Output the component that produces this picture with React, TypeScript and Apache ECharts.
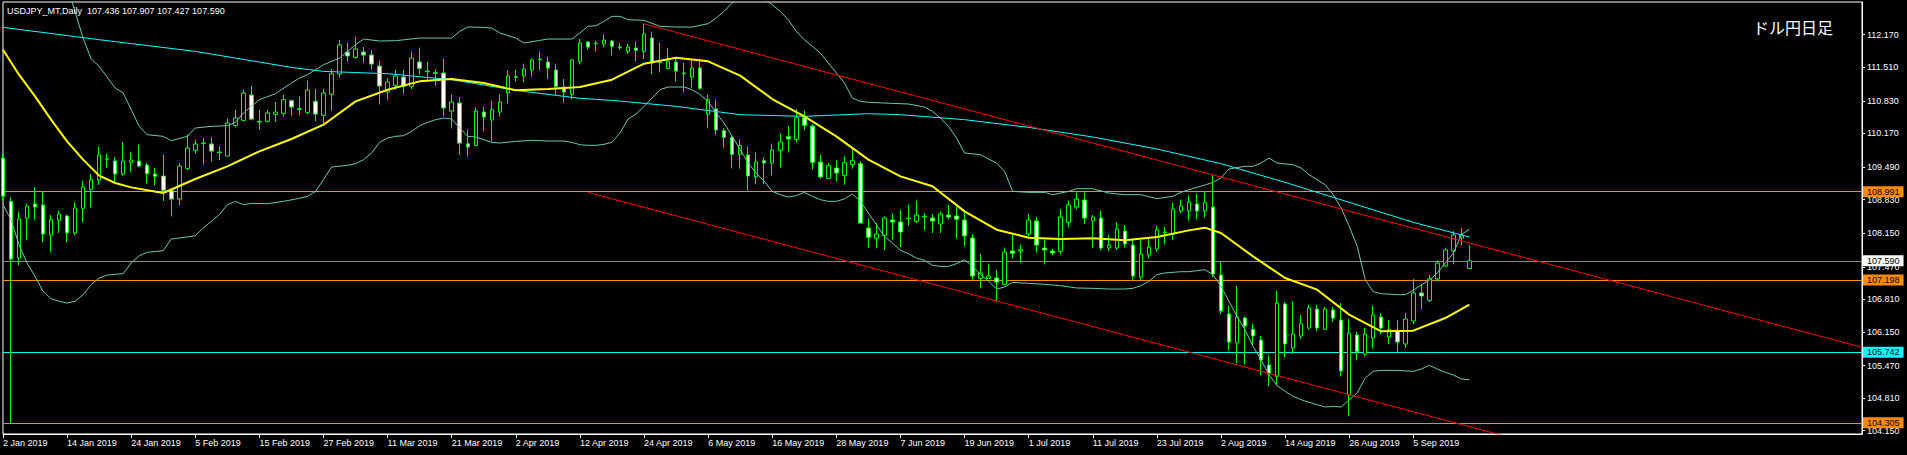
import React, { useEffect, useRef } from "react";
import * as echarts from "echarts";

// ---------- DATA ----------
const MONTHS = ["Jan", "Feb", "Mar", "Apr", "May", "Jun", "Jul", "Aug", "Sep", "Oct", "Nov", "Dec"];
const firstDay = "2019-01-02";
const totalSlots = 233; // trading days incl. empty space to the right (chart shift)

function buildCategories(start: string, n: number): string[] {
  const out: string[] = [];
  const d = new Date(start + "T00:00:00Z");
  while (out.length < n) {
    const wd = d.getUTCDay();
    if (wd !== 0 && wd !== 6) {
      out.push(`${d.getUTCDate()} ${MONTHS[d.getUTCMonth()]} ${d.getUTCFullYear()}`);
    }
    d.setUTCDate(d.getUTCDate() + 1);
  }
  return out;
}
const categories = buildCategories(firstDay, totalSlots);

// [open, high, low, close]
const ohlc: number[][] = [
  [109.67, 109.75, 108.8, 108.9], [108.795, 108.88, 104.305, 107.627], [107.647, 108.586, 107.499, 108.437], [108.451, 108.748, 108.005, 108.7],
  [108.741, 109.085, 108.424, 108.68], [108.72, 109.004, 107.965, 108.133], [108.113, 108.518, 107.762, 108.424], [108.41, 108.606, 108.154, 108.538],
  [108.498, 108.525, 107.965, 108.154], [108.154, 108.775, 108.106, 108.66], [108.653, 109.213, 108.37, 109.085], [109.038, 109.355, 108.673, 109.234],
  [109.227, 109.902, 109.126, 109.733], [109.645, 109.76, 109.47, 109.659], [109.612, 109.693, 109.166, 109.348], [109.348, 109.996, 109.315, 109.612],
  [109.585, 109.794, 109.396, 109.632], [109.612, 109.942, 109.49, 109.51], [109.531, 109.57, 109.159, 109.355], [109.348, 109.477, 109.119, 109.301],
  [109.308, 109.74, 108.802, 109.018], [109.018, 109.058, 108.491, 108.842], [108.842, 109.57, 108.714, 109.51], [109.463, 110.152, 109.423, 109.875],
  [109.828, 110.044, 109.76, 109.956], [109.963, 110.077, 109.544, 109.976], [109.956, 110.091, 109.605, 109.814], [109.794, 109.909, 109.632, 109.78],
  [109.713, 110.469, 109.706, 110.381], [110.334, 110.651, 110.293, 110.482], [110.435, 111.056, 110.422, 110.989], [110.948, 111.137, 110.435, 110.462],
  [110.415, 110.651, 110.246, 110.401], [110.415, 110.651, 110.395, 110.584], [110.557, 110.806, 110.401, 110.604], [110.577, 110.955, 110.509, 110.854],
  [110.833, 110.854, 110.53, 110.705], [110.671, 110.914, 110.536, 110.658], [110.597, 111.238, 110.557, 111.049], [110.82, 111.07, 110.415, 110.563],
  [110.536, 111.07, 110.327, 110.989], [110.962, 111.475, 110.631, 111.38], [111.373, 112.062, 111.299, 111.961], [111.819, 112.008, 111.623, 111.738],
  [111.711, 112.129, 111.684, 111.88], [111.819, 111.92, 111.603, 111.758], [111.758, 111.859, 111.468, 111.576], [111.535, 111.643, 110.759, 111.13],
  [111.009, 111.286, 110.854, 111.211], [111.144, 111.461, 111.056, 111.333], [111.313, 111.461, 110.975, 111.124], [111.124, 111.826, 111.07, 111.697],
  [111.616, 111.907, 111.36, 111.488], [111.434, 111.623, 111.259, 111.42], [111.4, 111.475, 111.137, 111.387], [111.394, 111.684, 110.516, 110.685],
  [110.624, 110.955, 110.273, 110.806], [110.786, 110.908, 109.733, 109.976], [109.963, 110.246, 109.706, 109.895], [109.929, 110.698, 109.909, 110.624],
  [110.604, 110.705, 110.212, 110.503], [110.442, 110.834, 110.01, 110.651], [110.604, 110.955, 110.516, 110.806], [110.989, 111.448, 110.779, 111.333],
  [111.32, 111.461, 111.225, 111.306], [111.333, 111.583, 111.205, 111.475], [111.454, 111.691, 111.326, 111.657], [111.664, 111.826, 111.454, 111.677],
  [111.616, 111.724, 111.272, 111.495], [111.454, 111.583, 110.955, 111.124], [111.11, 111.272, 110.8, 111.009], [110.962, 111.677, 110.86, 111.657],
  [111.63, 112.089, 111.569, 112.001], [112.021, 112.042, 111.873, 111.92], [111.988, 112.048, 111.832, 112.001], [111.981, 112.17, 111.913, 112.062],
  [112.042, 112.062, 111.751, 111.934], [111.92, 112.001, 111.866, 111.907], [111.832, 111.981, 111.785, 111.92], [111.9, 112.028, 111.63, 111.853],
  [111.832, 112.393, 111.677, 112.184], [112.102, 112.231, 111.367, 111.596], [111.616, 112.008, 111.407, 111.603], [111.488, 111.9, 111.475, 111.637],
  [111.616, 111.691, 111.225, 111.434], [111.394, 111.596, 111.002, 111.38], [111.313, 111.677, 111.097, 111.495], [111.495, 111.684, 111.056, 111.083],
  [110.557, 110.955, 110.273, 110.854], [110.665, 110.854, 110.145, 110.239], [110.226, 110.28, 109.882, 110.091], [110.084, 110.118, 109.463, 109.747],
  [109.747, 110.044, 109.456, 109.922], [109.733, 109.902, 109.018, 109.308], [109.288, 109.78, 109.139, 109.591], [109.618, 109.693, 109.139, 109.571],
  [109.571, 109.963, 109.321, 109.834], [109.828, 110.179, 109.483, 109.996], [110.104, 110.327, 109.787, 110.057], [110.05, 110.665, 109.99, 110.489],
  [110.489, 110.631, 110.233, 110.334], [110.32, 110.354, 109.443, 109.585], [109.591, 109.74, 109.254, 109.288], [109.261, 109.57, 109.254, 109.517],
  [109.47, 109.632, 109.2, 109.369], [109.321, 109.706, 109.132, 109.578], [109.544, 109.875, 109.456, 109.618], [109.558, 109.605, 108.343, 108.356],
  [108.255, 108.444, 107.857, 108.066], [108.046, 108.356, 107.843, 108.133], [108.106, 108.491, 107.802, 108.457], [108.417, 108.559, 108.019, 108.376],
  [108.376, 108.619, 107.87, 108.174], [108.444, 108.727, 108.302, 108.457], [108.39, 108.808, 108.356, 108.518], [108.491, 108.559, 108.208, 108.477],
  [108.457, 108.538, 108.154, 108.397], [108.336, 108.586, 108.154, 108.538], [108.518, 108.727, 108.431, 108.477], [108.498, 108.68, 108.039, 108.431],
  [108.417, 108.619, 107.883, 108.093], [108.052, 108.133, 107.208, 107.283], [107.235, 107.735, 107.033, 107.343], [107.235, 107.533, 107.235, 107.283],
  [107.242, 107.411, 106.77, 107.161], [107.114, 107.857, 107.1, 107.769], [107.789, 108.154, 107.634, 107.742], [107.789, 107.917, 107.553, 107.816],
  [108.133, 108.545, 108.086, 108.417], [108.397, 108.478, 107.762, 107.91], [107.85, 108.019, 107.519, 107.809], [107.789, 107.836, 107.701, 107.749],
  [107.782, 108.64, 107.722, 108.478], [108.37, 108.808, 108.268, 108.721], [108.68, 108.977, 108.633, 108.842], [108.822, 108.977, 108.336, 108.457],
  [108.397, 108.518, 107.85, 108.478], [108.457, 108.606, 107.802, 107.85], [107.85, 108.113, 107.789, 107.91], [107.85, 108.376, 107.809, 108.235],
  [108.194, 108.316, 107.857, 107.931], [107.91, 108.012, 107.208, 107.283], [107.262, 108.005, 107.208, 107.728], [107.708, 108.052, 107.634, 107.87],
  [107.829, 108.302, 107.776, 108.214], [108.154, 108.275, 107.931, 108.174], [108.127, 108.768, 108.019, 108.64], [108.599, 108.829, 108.552, 108.7],
  [108.599, 108.91, 108.41, 108.781], [108.741, 108.95, 108.431, 108.599], [108.599, 108.977, 108.471, 108.768], [108.68, 109.335, 107.262, 107.323],
  [107.303, 107.573, 106.506, 106.574], [106.513, 106.682, 105.777, 105.946], [105.926, 107.087, 105.514, 106.452], [106.432, 106.466, 105.494, 106.27],
  [106.203, 106.311, 105.885, 106.068], [105.987, 106.068, 105.271, 105.582], [105.48, 105.676, 105.048, 105.298], [105.244, 106.986, 105.069, 106.736],
  [106.716, 106.756, 105.636, 105.906], [105.825, 106.776, 105.703, 106.108], [106.068, 106.493, 106.007, 106.317], [106.23, 106.702, 106.196, 106.635],
  [106.614, 106.702, 106.162, 106.23], [106.203, 106.662, 106.203, 106.614], [106.594, 106.655, 106.351, 106.432], [106.392, 106.736, 105.251, 105.359],
  [104.886, 106.412, 104.441, 106.128], [106.088, 106.149, 105.575, 105.757], [105.703, 106.23, 105.656, 106.108], [106.027, 106.682, 105.818, 106.493],
  [106.452, 106.533, 106.108, 106.23], [106.047, 106.392, 105.906, 106.203], [106.182, 106.392, 105.744, 105.946], [105.906, 106.533, 105.825, 106.412],
  [106.371, 107.222, 106.311, 106.938], [106.938, 107.121, 106.614, 106.878], [106.79, 107.303, 106.756, 107.222], [107.222, 107.6, 107.175, 107.546],
  [107.485, 107.857, 107.472, 107.809], [107.789, 108.194, 107.519, 108.113], [108.052, 108.255, 107.91, 108.113], [107.436, 107.907, 107.427, 107.59],
];

// indicator readings: [bar index, price]
const maFast: number[][] = [
  [0, 111.866], [2, 111.36], [4, 110.921], [6, 110.449], [8, 110.01], [10, 109.639], [12, 109.315], [14, 109.166], [16, 109.078],
  [20, 108.964], [24, 109.247], [28, 109.504], [32, 109.807], [36, 110.057], [40, 110.347], [44, 110.82], [48, 111.056],
  [52, 111.225], [56, 111.272], [60, 111.191], [64, 111.043], [68, 111.07], [72, 111.11], [76, 111.259], [80, 111.583],
  [84, 111.704], [88, 111.63], [92, 111.34], [96, 110.867], [100, 110.516], [104, 110.111], [108, 109.639], [112, 109.301],
  [116, 109.099], [120, 108.592], [124, 108.221], [128, 108.059], [132, 108.032], [136, 108.045], [140, 108.005], [144, 108.072],
  [148, 108.207], [150, 108.262], [152, 108.154], [156, 107.681], [160, 107.242], [164, 107.006], [168, 106.5], [172, 106.162],
  [176, 106.176], [180, 106.432], [183, 106.702],
];
const maSlow: number[][] = [
  [0, 112.319], [12, 112.069], [24, 111.832], [36, 111.508], [40, 111.427], [48, 111.38], [56, 111.259], [64, 111.043],
  [72, 110.881], [76, 110.84], [84, 110.719], [92, 110.55], [100, 110.516], [108, 110.57], [112, 110.55], [120, 110.449],
  [128, 110.293], [136, 110.098], [144, 109.855], [152, 109.558], [160, 109.18], [168, 108.775], [176, 108.37], [183, 108.073],
];
const bandUpper: number[][] = [
  [7, 113.69], [8, 113.169], [9, 112.63], [10, 112.1], [11, 111.68], [12, 111.529], [14, 111.09], [15, 110.989], [17, 110.314],
  [18, 110.145], [20, 110.111], [21, 110.023], [23, 110.111], [24, 110.28], [26, 110.314], [28, 110.327], [29, 110.395],
  [30, 110.584], [32, 110.854], [34, 110.975], [36, 111.191], [37, 111.292], [38, 111.36], [40, 111.562], [42, 111.697],
  [44, 111.967], [45, 112.082], [47, 112.042], [49, 112.048], [52, 112.102], [56, 112.102], [57, 112.238], [58, 112.325],
  [60, 112.318], [61, 112.305], [62, 112.204], [64, 112.102], [65, 112.001], [67, 112.055], [68, 112.082], [71, 112.082],
  [72, 112.204], [73, 112.339], [74, 112.352], [75, 112.44], [76, 112.541], [77, 112.541], [78, 112.474], [80, 112.46],
  [82, 112.339], [84, 112.325], [86, 112.325], [88, 112.393], [89, 112.508], [90, 112.643], [91, 112.811], [92, 113.014],
  [93, 113.08], [94, 113.014], [95, 112.879], [96, 112.778], [97, 112.643], [98, 112.474], [99, 112.238], [100, 112.069],
  [101, 111.934], [102, 111.799], [103, 111.596], [104, 111.394], [105, 111.191], [106, 110.887], [107, 110.82], [108, 110.8],
  [110, 110.786], [111, 110.779], [113, 110.766], [115, 110.705], [116, 110.617], [117, 110.482], [118, 110.314], [119, 110.077],
  [120, 109.774], [122, 109.74], [123, 109.652], [124, 109.571], [125, 109.402], [126, 108.997], [128, 108.977], [130, 108.977],
  [131, 108.93], [133, 108.997], [134, 109.051], [136, 109.051], [138, 108.963], [140, 108.93], [142, 108.93], [144, 108.849],
  [146, 108.896], [147, 108.977], [148, 109.031], [150, 109.126], [151, 109.18], [152, 109.267], [153, 109.45], [155, 109.504],
  [156, 109.504], [157, 109.571], [158, 109.672], [159, 109.571], [161, 109.537], [162, 109.47], [163, 109.335], [165, 109.132],
  [166, 108.93], [167, 108.66], [168, 108.289], [169, 107.884], [170, 107.209], [171, 106.965], [172, 106.925], [174, 106.905],
  [175, 106.905], [176, 106.992], [177, 107.107], [178, 107.195], [179, 107.344], [180, 107.546], [181, 107.748], [182, 108.12],
  [183, 108.235],
];
const bandLower: number[][] = [
  [0, 108.727], [1, 108.424], [2, 107.917], [3, 107.546], [4, 107.276], [5, 106.972], [6, 106.824], [7, 106.77], [8, 106.736],
  [9, 106.77], [10, 106.905], [11, 107.107], [12, 107.242], [13, 107.303], [15, 107.33], [16, 107.546], [17, 107.694],
  [18, 107.762], [20, 107.796], [21, 108.032], [23, 108.073], [24, 108.1], [25, 108.255], [26, 108.39], [27, 108.525],
  [28, 108.727], [29, 108.795], [30, 108.727], [31, 108.754], [33, 108.747], [35, 108.795], [37, 108.856], [38, 108.896],
  [39, 108.997], [40, 109.234], [41, 109.49], [43, 109.524], [44, 109.558], [45, 109.639], [46, 109.774], [47, 109.99],
  [48, 110.077], [49, 110.111], [50, 110.125], [51, 110.212], [52, 110.327], [53, 110.395], [54, 110.449], [55, 110.482],
  [56, 110.462], [57, 110.28], [58, 110.111], [59, 110.098], [60, 110.044], [61, 109.99], [62, 109.976], [64, 110.01],
  [66, 110.03], [68, 110.017], [70, 110.017], [71, 109.99], [72, 109.942], [73, 109.929], [74, 109.929], [75, 109.949],
  [76, 109.99], [77, 110.179], [78, 110.462], [79, 110.563], [80, 110.719], [81, 110.887], [82, 111.056], [83, 111.11],
  [85, 111.11], [86, 111.056], [87, 110.955], [88, 110.82], [89, 110.584], [90, 110.381], [91, 110.111], [92, 109.841],
  [93, 109.571], [94, 109.369], [95, 109.2], [96, 108.997], [97, 108.93], [98, 108.883], [99, 108.91], [100, 108.977],
  [101, 108.896], [102, 108.829], [103, 108.795], [104, 108.795], [105, 108.842], [106, 108.943], [107, 108.795], [108, 108.559],
  [109, 108.322], [110, 108.086], [111, 107.951], [112, 107.803], [113, 107.735], [114, 107.647], [115, 107.6], [116, 107.499],
  [117, 107.478], [118, 107.478], [119, 107.533], [120, 107.614], [121, 107.478], [122, 107.31], [123, 107.175], [124, 107.019],
  [125, 107.06], [126, 107.154], [128, 107.134], [130, 107.114], [132, 107.087], [134, 107.04], [136, 107.033], [138, 107.019],
  [140, 107.019], [141, 107.033], [142, 107.087], [143, 107.175], [144, 107.31], [145, 107.344], [146, 107.357], [147, 107.37],
  [148, 107.37], [149, 107.391], [150, 107.411], [151, 107.31], [152, 107.073], [153, 106.77], [154, 106.466], [155, 106.196],
  [156, 105.858], [157, 105.588], [158, 105.285], [159, 105.062], [160, 104.947], [161, 104.846], [162, 104.778], [163, 104.724],
  [164, 104.677], [165, 104.63], [166, 104.643], [167, 104.63], [168, 104.778], [169, 104.913], [170, 105.217], [171, 105.352],
  [172, 105.372], [174, 105.372], [176, 105.352], [177, 105.399], [178, 105.474], [179, 105.399], [180, 105.332], [181, 105.278],
  [182, 105.197], [183, 105.183],
];
const channelUpper: number[][] = [[80, 112.39], [232, 105.84]];
const channelLower: number[][] = [[73, 108.976], [232, 102.12]];

const orangeLevels = [108.991, 107.198, 104.305];
const cyanLevel = 105.742;
const lastPrice = 107.59;
const priceTicks = [104.15, 104.81, 105.47, 106.15, 106.81, 107.47, 108.15, 108.83, 109.49, 110.17, 110.83, 111.51, 112.17];
const priceMin = 104.083;
const priceMax = 112.832;
const headerText = "USDJPY_MT,Daily  107.436 107.907 107.427 107.590";
const cornerTitle = "ドル円日足";
const labelEvery = 8;

// ---------- CHART ----------
const FONT = '"Liberation Sans", Arial, sans-serif';

function levelItem(value: number, line: string, box: string) {
  return {
    yAxis: value,
    lineStyle: { color: line, width: 1, type: "solid" },
    label: {
      show: true,
      position: "end",
      distance: 1,
      formatter: () => value.toFixed(3),
      color: "#000",
      backgroundColor: box,
      padding: [1, 4, 0, 4],
      fontSize: 9,
      lineHeight: 10,
      fontFamily: FONT,
    },
  };
}

export default function App() {
  const ref = useRef<HTMLDivElement>(null);
  useEffect(() => {
    if (!ref.current) return;
    const chart = echarts.init(ref.current, null, { renderer: "svg" });
    const lastBar = ohlc.length - 1;
    const showIdx = (i: number) => i % labelEvery === 0 && i <= lastBar;
    const lineSeries = (name: string, data: number[][], color: string, width: number, z: number) => ({
      name,
      type: "line",
      data,
      showSymbol: false,
      symbol: "none",
      clip: true,
      silent: true,
      z,
      lineStyle: { color, width },
    });
    const option: any = {
      animation: false,
      backgroundColor: "#000",
      textStyle: { fontFamily: FONT },
      grid: {
        left: 3,
        top: 2,
        width: 1859,
        height: 432,
        show: true,
        borderColor: "#ffffff",
        borderWidth: 1,
        backgroundColor: "#000",
      },
      xAxis: {
        type: "category",
        data: categories,
        boundaryGap: false,
        axisLine: { show: true, lineStyle: { color: "#ffffff", width: 1 } },
        axisTick: { show: true, interval: (i: number) => showIdx(i), length: 4, lineStyle: { color: "#ffffff" } },
        axisLabel: {
          show: true,
          interval: (i: number) => showIdx(i),
          align: "left",
          color: "#ffffff",
          fontSize: 9,
          fontFamily: FONT,
          margin: 4,
        },
        splitLine: { show: false },
      },
      yAxis: {
        type: "value",
        position: "right",
        min: priceMin,
        max: priceMax,
        scale: true,
        axisLine: { show: true, lineStyle: { color: "#ffffff", width: 1 } },
        axisTick: { show: true, customValues: priceTicks, length: 3, lineStyle: { color: "#ffffff" } },
        axisLabel: {
          show: true,
          customValues: priceTicks,
          formatter: (v: number) => v.toFixed(3),
          color: "#ffffff",
          fontSize: 9,
          fontFamily: FONT,
          margin: 5,
        },
        splitLine: { show: false },
      },
      graphic: [
        { type: "text", left: 7, top: 6, z: 100, style: { text: headerText, fill: "#ffffff", font: `9px ${FONT}` } },
        { type: "text", left: 1753, top: 19, z: 100, style: { text: cornerTitle, fill: "#ffffff", font: '16px "Noto Sans CJK JP", sans-serif' } },
      ],
      series: [
        {
          name: "USDJPY",
          type: "candlestick",
          data: ohlc.map(([o, h, l, c]) => [o, c, l, h]),
          barWidth: 4,
          clip: true,
          z: 3,
          silent: true,
          itemStyle: {
            color: "#000000",
            color0: "#ffffff",
            borderColor: "#00ff00",
            borderColor0: "#00ff00",
            borderColorDoji: "#00ff00",
            borderWidth: 1,
          },
          markLine: {
            silent: true,
            symbol: ["none", "none"],
            z: 2,
            data: [
              ...orangeLevels.map((v) => levelItem(v, "#ff8c00", "#ff8c00")),
              levelItem(cyanLevel, "#00ffff", "#00ffff"),
              levelItem(lastPrice, "#8a8a8a", "#ffffff"),
            ],
          },
        },
        lineSeries("slowMA", maSlow, "#00ffff", 1, 4),
        lineSeries("bbUpper", bandUpper, "#66cdaa", 1, 4),
        lineSeries("bbLower", bandLower, "#66cdaa", 1, 4),
        lineSeries("fastMA", maFast, "#ffff00", 2, 5),
        lineSeries("channelUpper", channelUpper, "#ff0000", 1, 4),
        lineSeries("channelLower", channelLower, "#ff0000", 1, 4),
      ],
    };
    chart.setOption(option);
    return () => chart.dispose();
  }, []);
  return <div ref={ref} style={{ position: "fixed", left: 0, top: 0, width: 1907, height: 455 }} />;
}
